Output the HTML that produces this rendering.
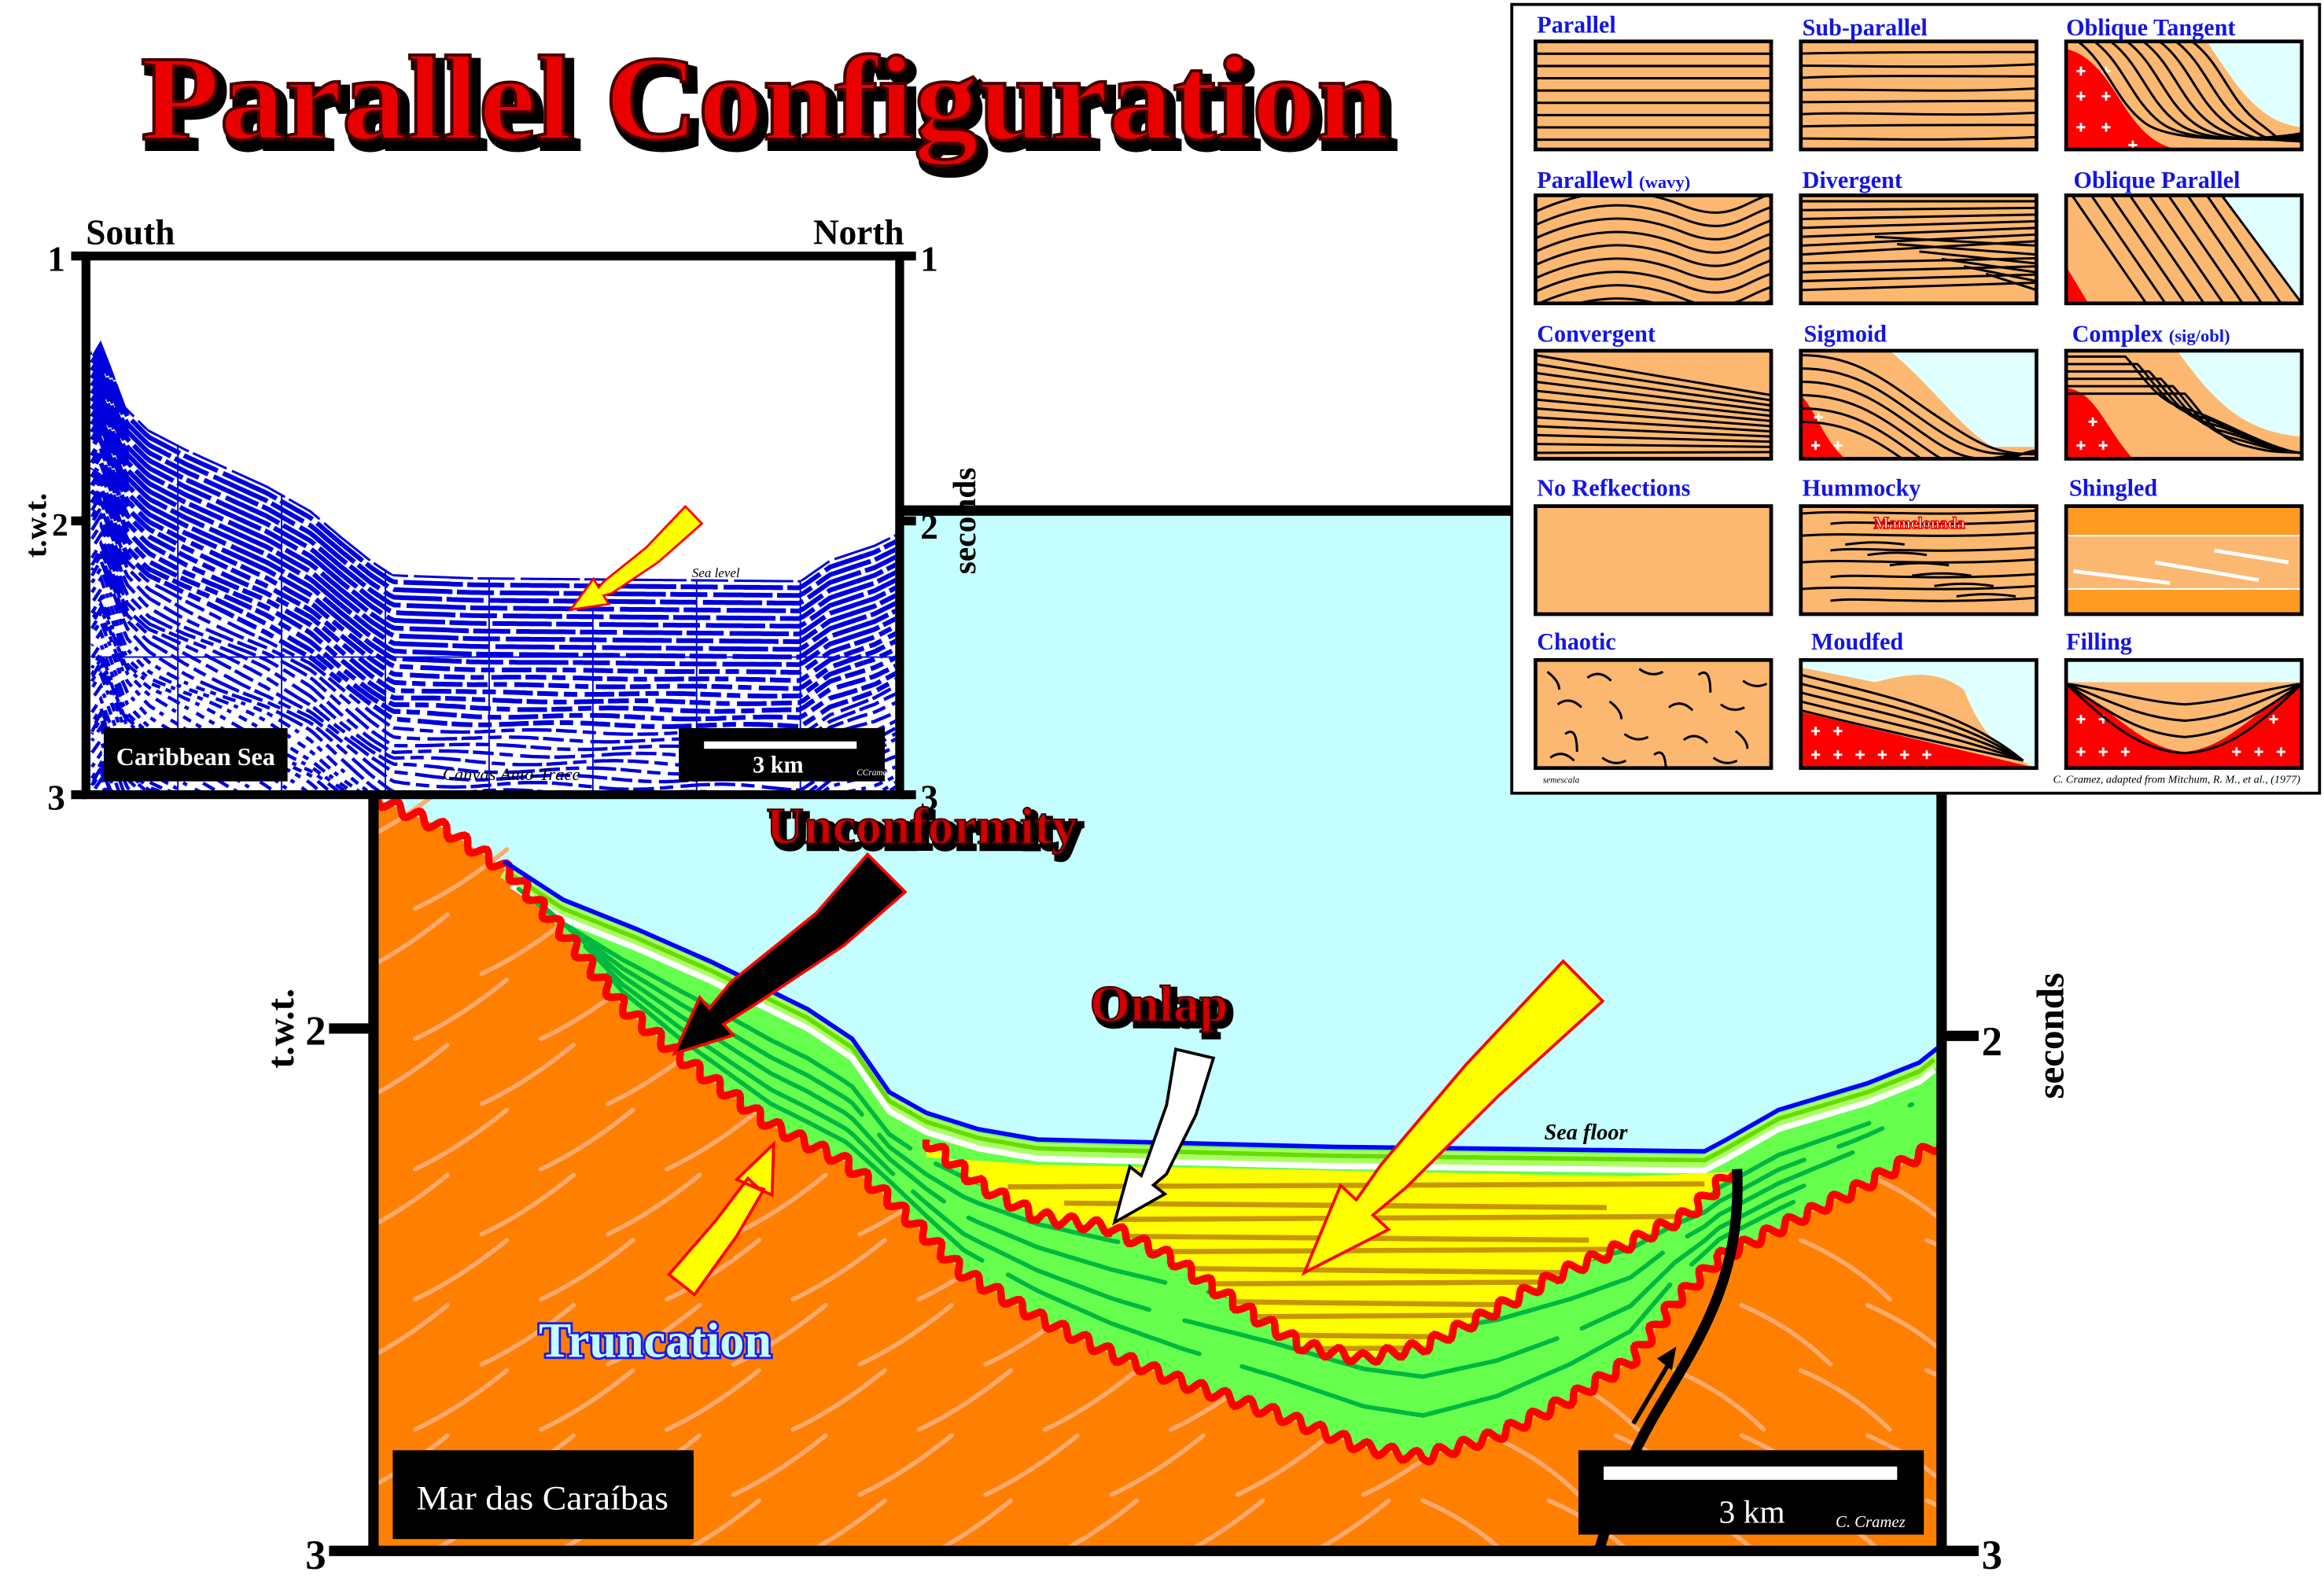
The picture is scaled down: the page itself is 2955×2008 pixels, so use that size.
<!DOCTYPE html>
<html><head><meta charset="utf-8"><style>
html,body{margin:0;padding:0;background:#fff;}
svg{display:block;}
.ser{font-family:"Liberation Serif",serif;font-weight:bold;}
.lab{font-family:"Liberation Serif",serif;font-weight:bold;fill:#1414e6;font-size:16px;}
</style></head><body>
<svg id="s" xmlns="http://www.w3.org/2000/svg" width="2955" height="2008" viewBox="0 0 1568 1067" preserveAspectRatio="none">
<defs>
<clipPath id="seisClip"><rect x="61" y="176" width="543" height="358"/></clipPath>
<clipPath id="mainClip"><rect x="255" y="537" width="1052" height="508"/></clipPath>
</defs>
<rect width="1568" height="1067" fill="#fff"/>
<rect x="252" y="345" width="1058" height="703" fill="#c4fefe"/>
<g id="main" clip-path="url(#mainClip)"></g>
<g stroke="#000" stroke-width="7" fill="none">
<line x1="607" y1="345" x2="1022" y2="345"/>
<line x1="252" y1="537" x2="252" y2="1048"/>
<line x1="1310" y1="537" x2="1310" y2="1048"/>
<line x1="222" y1="1048" x2="1335" y2="1048"/>
<line x1="222" y1="695" x2="252" y2="695"/>
<line x1="1310" y1="700" x2="1335" y2="700"/>
</g>
<g id="arrows"></g>
<rect x="58" y="173" width="549" height="364" fill="#fff"/>
<g id="seis" clip-path="url(#seisClip)"></g>
<g stroke="#000" stroke-width="6" fill="none">
<rect x="58" y="173" width="549" height="364"/>
<line x1="48" y1="173" x2="58" y2="173"/><line x1="607" y1="173" x2="618" y2="173"/>
<line x1="48" y1="352" x2="58" y2="352"/><line x1="607" y1="352" x2="618" y2="352"/>
<line x1="48" y1="537" x2="58" y2="537"/><line x1="607" y1="537" x2="618" y2="537"/>
</g>
<g id="seisArrow"></g>
<rect x="70" y="492" width="124" height="36" fill="#000"/>
<text x="132" y="517" class="ser" font-size="17" fill="#fff" text-anchor="middle">Caribbean Sea</text>
<rect x="458" y="492" width="139" height="36" fill="#000"/>
<rect x="475" y="501" width="103" height="5" fill="#fff"/>
<text x="525" y="522" class="ser" font-size="16" fill="#fff" text-anchor="middle">3 km</text>
<text x="578" y="524" font-family="Liberation Serif,serif" font-style="italic" font-size="6" fill="#fff">CCramez</text>
<text x="345" y="527" font-family="Liberation Serif,serif" font-style="italic" font-size="12" fill="#000" text-anchor="middle">Canvas Auto-Trace</text>
<text x="483" y="390" font-family="Liberation Serif,serif" font-style="italic" font-size="9" fill="#000" text-anchor="middle">Sea level</text>
<text x="58" y="165" class="ser" font-size="24">South</text>
<text x="610" y="165" class="ser" font-size="24" text-anchor="end">North</text>
<text x="44" y="183" class="ser" font-size="24" text-anchor="end">1</text>
<text x="621" y="183" class="ser" font-size="24">1</text>
<text x="46" y="362" class="ser" font-size="22" text-anchor="end">2</text>
<text x="621" y="364" class="ser" font-size="24">2</text>
<text x="44" y="547" class="ser" font-size="24" text-anchor="end">3</text>
<text x="621" y="547" class="ser" font-size="24">3</text>
<text transform="translate(31,355) rotate(-90)" class="ser" font-size="21" text-anchor="middle">t.w.t.</text>
<text transform="translate(658,352) rotate(-90)" class="ser" font-size="22" text-anchor="middle">seconds</text>
<text transform="translate(198,695) rotate(-90)" class="ser" font-size="26" text-anchor="middle">t.w.t.</text>
<text x="220" y="706" class="ser" font-size="28" text-anchor="end">2</text>
<text transform="translate(1392,700) rotate(-90)" class="ser" font-size="26" text-anchor="middle">seconds</text>
<text x="1337" y="713" class="ser" font-size="28">2</text>
<text x="220" y="1060" class="ser" font-size="28" text-anchor="end">3</text>
<text x="1337" y="1060" class="ser" font-size="28">3</text>
<rect x="265" y="980" width="203" height="60" fill="#000"/>
<text x="366" y="1020" font-family="Liberation Serif,serif" font-size="23" fill="#fff" text-anchor="middle" textLength="170" lengthAdjust="spacingAndGlyphs">Mar das Caraíbas</text>
<rect x="1065" y="980" width="233" height="57" fill="#000"/>
<rect x="1082" y="991" width="198" height="9" fill="#fff"/>
<text x="1182" y="1029" font-family="Liberation Serif,serif" font-size="22" fill="#fff" text-anchor="middle">3 km</text>
<text x="1262" y="1032" font-family="Liberation Serif,serif" font-style="italic" font-size="11" fill="#fff" text-anchor="middle">C. Cramez</text>
<text x="1070" y="770" font-family="Liberation Serif,serif" font-style="italic" font-weight="bold" font-size="15" fill="#000" text-anchor="middle">Sea floor</text>
<text x="625" y="573" class="ser" font-size="35" fill="#000" text-anchor="middle" stroke="#000" stroke-width="4">Unconformity</text>
<text x="622" y="570" class="ser" font-size="35" fill="#d00000" text-anchor="middle" stroke="#300" stroke-width="1">Unconformity</text>
<text x="785" y="693" class="ser" font-size="35" fill="#000" text-anchor="middle" stroke="#000" stroke-width="4">Onlap</text>
<text x="782" y="690" class="ser" font-size="35" fill="#d00000" text-anchor="middle" stroke="#300" stroke-width="1">Onlap</text>
<text x="442" y="917" class="ser" font-size="33" fill="#c4fefe" text-anchor="middle" stroke="#1a1aee" stroke-width="3" paint-order="stroke">Truncation</text>
<text x="99" y="99" class="ser" font-size="82" fill="#000" stroke="#000" stroke-width="6" textLength="842" lengthAdjust="spacingAndGlyphs">Parallel Configuration</text>
<text x="95" y="94" class="ser" font-size="82" fill="#e80000" stroke="#400" stroke-width="2" textLength="842" lengthAdjust="spacingAndGlyphs">Parallel Configuration</text>
<rect x="1020" y="3" width="545" height="533" fill="#fff" stroke="#000" stroke-width="2"/>
<g id="panel"></g>
<text x="1037" y="22" class="lab">Parallel</text>
<text x="1216" y="24" class="lab">Sub-parallel</text>
<text x="1394" y="24" class="lab">Oblique Tangent</text>
<text x="1037" y="127" class="lab">Parallewl <tspan font-size="12">(wavy)</tspan></text>
<text x="1216" y="127" class="lab">Divergent</text>
<text x="1399" y="127" class="lab">Oblique Parallel</text>
<text x="1037" y="231" class="lab">Convergent</text>
<text x="1217" y="231" class="lab">Sigmoid</text>
<text x="1398" y="231" class="lab">Complex <tspan font-size="12">(sig/obl)</tspan></text>
<text x="1037" y="335" class="lab">No Refkections</text>
<text x="1216" y="335" class="lab">Hummocky</text>
<text x="1396" y="335" class="lab">Shingled</text>
<text x="1037" y="439" class="lab">Chaotic</text>
<text x="1222" y="439" class="lab">Moudfed</text>
<text x="1394" y="439" class="lab">Filling</text>
<text x="1295" y="357" font-family="Liberation Serif,serif" font-weight="bold" font-size="11" fill="#fff" stroke="#e00" stroke-width="0.8" text-anchor="middle">Mamelonada</text>
<text x="1041" y="529" font-family="Liberation Serif,serif" font-style="italic" font-size="6">semescala</text>
<text x="1552" y="529" font-family="Liberation Serif,serif" font-style="italic" font-size="7.5" text-anchor="end">C. Cramez, adapted from Mitchum, R. M., et al., (1977)</text>
</svg>
<script>
const NS="http://www.w3.org/2000/svg";
const DEFS=document.querySelector('defs');
function el(t,a,p){const e=document.createElementNS(NS,t);for(const k in a)e.setAttribute(k,a[k]);(p||document.getElementById('s')).appendChild(e);return e;}
function P(pts){return "M"+pts.map(p=>p[0].toFixed(1)+","+p[1].toFixed(1)).join(" L");}
function interp(poly,x){if(x<=poly[0][0])return poly[0][1];for(let i=1;i<poly.length;i++){if(x<=poly[i][0]){const a=poly[i-1],b=poly[i];return a[1]+(b[1]-a[1])*(x-a[0])/(b[0]-a[0]);}}return poly[poly.length-1][1];}
function wavy(poly,A,L){const out=[];let s=0;for(let i=1;i<poly.length;i++){const a=poly[i-1],b=poly[i];const dx=b[0]-a[0],dy=b[1]-a[1];const len=Math.hypot(dx,dy);const nx=-dy/len,ny=dx/len;for(let t=0;t<len;t+=1.5){const o=A*Math.sin(2*Math.PI*(s+t)/L);out.push([a[0]+dx*t/len+nx*o,a[1]+dy*t/len+ny*o]);}s+=len;}out.push(poly[poly.length-1]);return out;}
function arrow(g,pts,w,hw,hl,fill,stroke,sw){
 const n=pts.length;const tip=pts[n-1],pre=pts[n-2];
 const dx=tip[0]-pre[0],dy=tip[1]-pre[1],L=Math.hypot(dx,dy),ux=dx/L,uy=dy/L;
 const base=[tip[0]-ux*hl,tip[1]-uy*hl];
 const sp=pts.slice(0,n-1).concat([base]);
 const left=[],right=[];
 for(let i=0;i<sp.length;i++){const a=sp[Math.max(0,i-1)],b=sp[Math.min(sp.length-1,i+1)];let ex=b[0]-a[0],ey=b[1]-a[1];const l=Math.hypot(ex,ey);ex/=l;ey/=l;const ww=w*(1-0.6*i/(sp.length-1))/2;left.push([sp[i][0]-ey*ww,sp[i][1]+ex*ww]);right.push([sp[i][0]+ey*ww,sp[i][1]-ex*ww]);}
 const poly=left.concat([[base[0]-uy*hw/2,base[1]+ux*hw/2],tip,[base[0]+uy*hw/2,base[1]-ux*hw/2]]).concat(right.reverse());
 el('path',{d:P(poly)+"Z",fill:fill,stroke:stroke,'stroke-width':sw,'stroke-linejoin':'miter'},g);
}
const M=document.getElementById('main');
const S=[[340,582],[380,608],[430,628],[480,650],[545,682],[575,702],[600,738],[625,752],[660,763],[700,770],[900,775],[1150,778],[1165,770],[1200,750],[1260,732],[1295,718],[1310,706]];
const U=[[255,540],[300,560],[345,590],[380,630],[420,680],[460,715],[520,760],[570,785],[600,810],[650,860],[700,890],[750,915],[800,935],[860,955],[920,978],[960,985],[1010,970],[1060,945],[1100,920],[1130,880],[1160,850],[1200,830],[1250,805],[1310,772]];
el('path',{d:P(U)+" L1310,1048 L252,1048 L252,540Z",fill:"#ff8000"},M);
const bl=el('g',{stroke:"#ffaa70","stroke-width":3,fill:"none","stroke-linecap":"round"},M);
for(let r=0;r<12;r++){for(let c=0;c<14;c++){const x=240+c*85+(r%2)*40,y=570+r*44;const uy=interp(U,x+20);if(y<uy+20)continue;const flip=x>=950;
 el('path',flip?{d:`M${x+60},${y} q-25,-25 -60,-40`}:{d:`M${x},${y} q30,-14 62,-40`},bl);}}
el('path',{d:P(S)+" L1310,772 "+P(U.filter(p=>p[0]>=345).reverse()).replace("M","L")+"Z",fill:"#66ff4d"},M);
const band=[];for(let x=340;x<=1310;x+=5)band.push([x,interp(S,x)+7]);
el('path',{d:P(band),stroke:"#aaff66","stroke-width":9,fill:"none"},M);
const band2=[];for(let x=345;x<=1305;x+=5)band2.push([x,interp(S,x)+6]);
el('path',{d:P(band2),stroke:"#66dd00","stroke-width":3,fill:"none"},M);
const wl=[];for(let x=345;x<=1305;x+=5)wl.push([x,interp(S,x)+13]);
el('path',{d:P(wl),stroke:"#fff","stroke-width":4,fill:"none"},M);
const gl=el('g',{stroke:"#00b840","stroke-width":3,fill:"none","stroke-linecap":"round"},M);
[0.25,0.42,0.58,0.74,0.88].forEach((t,i)=>{const pts=[];for(let x=350+i*15;x<=1290-i*20;x+=5){const a=interp(S,x)+16,b=interp(U,x)-6;pts.push([x,a+t*(b-a)]);}el('path',{d:P(pts),"stroke-dasharray":(i%2?"260 18 180 25":"320 20 140 30")},gl);});
const O=[[625,770],[660,800],[700,822],[750,830],[790,850],[840,885],[880,910],[920,918],[960,910],[1000,890],[1050,862],[1100,840],[1140,820],[1168,792]];
const Yt=[[1168,792],[1100,795],[700,787],[625,782]];
const ypath=P(O.concat(Yt))+"Z";
el('path',{d:ypath,fill:"#ffff00"},M);
const yc=el('clipPath',{id:"yclip"},DEFS);el('path',{d:ypath},yc);
const yl=el('g',{stroke:"#c89600","stroke-width":3.5,"clip-path":"url(#yclip)"},M);
for(let k=0;k<11;k++){const y=802+k*11;const x1=680+(k%3)*30+k*8, x2=1150-(k%2)*60-k*6;el('line',{x1:x1,y1:y,x2:x2,y2:y+(k%2?3:-2)},yl);}
el('path',{d:P(wavy(U,4,17)),stroke:"#ff0000","stroke-width":5,fill:"none"},M);
el('path',{d:P(wavy(O,4,17)),stroke:"#ff0000","stroke-width":5,fill:"none"},M);
el('path',{d:P(S),stroke:"#0000ff","stroke-width":3,fill:"none"},M);
el('path',{d:"M1172,790 C1175,860 1150,900 1120,950 S1085,1030 1078,1050",stroke:"#000","stroke-width":7,fill:"none"},M);
const AR=document.getElementById('arrows');
arrow(AR,[[598,590],[560,628],[500,672],[455,712]],36,34,38,"#000","#ff0000",2);
arrow(AR,[[806,712],[797,750],[780,790],[752,826]],26,30,36,"#fff","#000",2);
arrow(AR,[[1068,663],[1000,730],[940,795],[880,860]],38,44,60,"#ffff00","#ff0000",2);
arrow(AR,[[460,868],[490,830],[510,800],[522,773]],22,26,32,"#ffff00","#ff0000",2);
el('path',{d:"M1102,962 L1128,918",stroke:"#000","stroke-width":3,fill:"none"},AR);
el('path',{d:"M1131,910 L1118,918 L1128,926Z",fill:"#000"},AR);
const G=document.getElementById('seis');
const Sf=[[62,240],[68,230],[75,248],[85,275],[100,290],[125,303],[180,328],[210,345],[230,362],[250,378],[265,388],[320,390],[540,392],[560,378],[590,368],[606,360]];
const sg=el('g',{stroke:"#0000dd",fill:"none"},G);
for(let k=0;k<70;k++){const pts=[];for(let x=62;x<=606;x+=3){let y=interp(Sf,x)+k*5.2;const deep=Math.max(0,k-10)/60;
 y+=Math.sin(x*0.05+k*0.9)*deep*7;pts.push([x,y]);}
 const d=k<12?"40 3 25 4":(k<30?"14 4 9 5 20 3":"6 4 4 5 9 4 3 6");
 el('path',{d:P(pts),"stroke-width":k<20?3.2:2.3,"stroke-dasharray":d,"stroke-dashoffset":(k*7)%23},sg);}
el('path',{d:P(Sf)+" L606,170 L62,170Z",fill:"#fff"},G);
const gr=el('g',{stroke:"#0000dd","stroke-width":1},G);
[120,190,260,330,400,470,540].forEach(x=>el('line',{x1:x,y1:interp(Sf,x),x2:x,y2:537},gr));
el('line',{x1:62,y1:444,x2:606,y2:444},gr);
arrow(document.getElementById('seisArrow'),[[468,348],[440,375],[410,397],[385,412]],16,20,24,"#ffff00","#ff0000",1.5);
const PN=document.getElementById('panel');
const XS=[1036,1215,1394],YS=[28,132,237,342,446],W=159,H=73;
const TAN="#fcb870",CY="#e0ffff",RED="#ff0000";
let cid=0;
function cell(c,r,fn){const x=XS[c],y=YS[r];const id="pc"+(cid++);const cp=el('clipPath',{id:id},DEFS);el('rect',{x:x,y:y,width:W,height:H},cp);
 const g=el('g',{"clip-path":`url(#${id})`},PN);const inner=el('g',{transform:`translate(${x},${y})`},g);fn(inner);
 el('rect',{x:x,y:y,width:W,height:H,fill:"none",stroke:"#000","stroke-width":2.5},PN);}
function L(g,d,w){return el('path',{d:d,stroke:"#000","stroke-width":w||1.6,fill:"none"},g);}
function R(g,f){el('rect',{x:0,y:0,width:W,height:H,fill:f},g);}
function plus(g,pts){pts.forEach(p=>{L(g,`M${p[0]-3},${p[1]}h6M${p[0]},${p[1]-3}v6`,1.5).setAttribute('stroke','#fff');});}
cell(0,0,g=>{R(g,TAN);for(let i=1;i<9;i++)L(g,`M0,${i*8.3}H${W}`);});
cell(1,0,g=>{R(g,TAN);for(let i=1;i<9;i++){const y=i*8.2;L(g,`M0,${y} C40,${y-2+i%3} 100,${y+2-(i%2)*3} ${W},${y-1}`);}});
cell(2,0,g=>{R(g,CY);el('path',{d:`M0,0 H95 C115,30 130,55 ${W},58 V${H} H0Z`,fill:TAN},g);el('path',{d:`M0,5 C20,10 30,30 40,45 C50,60 60,70 75,${H} H0Z`,fill:RED},g);plus(g,[[10,20],[27,20],[10,37],[27,37],[10,58],[27,58],[45,70]]);
 for(let i=0;i<8;i++){const xs=8+i*11;L(g,`M${xs},0 C${xs+20},15 ${xs+25},40 ${xs+45},55 S${W-20},66 ${W},${62+i*0.8}`);}});
cell(0,1,g=>{R(g,TAN);for(let i=0;i<9;i++){const y=i*9+3;L(g,`M0,${y+8} C40,${y-10} 70,${y-8} 100,${y+4} S140,${y+2} ${W},${y-4}`);}});
cell(1,1,g=>{R(g,TAN);for(let i=0;i<11;i++){L(g,`M0,${4+i*6} L${W},${4+i*4.5+(i>6?i:0)}`);}for(let i=0;i<6;i++)L(g,`M${50+i*15},${28+i*5} L${W},${34+i*6}`);});
cell(2,1,g=>{R(g,CY);el('path',{d:`M0,0 H105 L${W},${H} H0Z`,fill:TAN},g);el('path',{d:`M0,48 L15,${H} H0Z`,fill:RED},g);for(let i=0;i<8;i++){const xs=4+i*13;L(g,`M${xs},0 L${xs+50},${H}`);}L(g,`M105,0 L${W},${H}`);});
cell(0,2,g=>{R(g,TAN);for(let i=0;i<12;i++){L(g,`M0,${3+i*6} L${W},${30+i*3.5}`);}});
cell(1,2,g=>{R(g,CY);el('path',{d:`M0,0 H60 C90,25 110,55 130,65 H${W} V${H} H0Z`,fill:TAN},g);el('path',{d:`M0,30 C10,40 15,60 30,${H} H0Z`,fill:RED},g);plus(g,[[12,45],[10,64],[25,64]]);
 for(let i=0;i<6;i++){const y=3+i*9;L(g,`M0,${y} C40,${y} 60,${y+20} 90,${y+40} S130,${H-3} ${W},${H-3-i*0.5}`);}});
cell(2,2,g=>{R(g,CY);el('path',{d:`M0,0 H75 C100,35 120,55 ${W},58 V${H} H0Z`,fill:TAN},g);el('path',{d:`M0,25 C20,28 25,50 45,${H} H0Z`,fill:RED},g);plus(g,[[18,48],[10,64],[25,64]]);
 for(let i=0;i<6;i++){const y=4+i*5,x=40+i*8;L(g,`M0,${y} H${x} C${x+10},${y+10} ${x+20},${y+30} ${x+40},${y+35} S${W-20},${H-5} ${W},${H-4}`);}});
cell(0,3,g=>{R(g,TAN);});
cell(1,3,g=>{R(g,TAN);const ys=[5,12,20,30,38,48,56,64];ys.forEach((y,i)=>{L(g,`M${i%2?20:0},${y} C40,${y-3} 80,${y+3} ${W},${y-2}`);});for(let i=0;i<6;i++)L(g,`M${30+i*15},${26+i*7} q20,-3 40,0`);});
cell(2,3,g=>{R(g,"#ff9a22");el('rect',{x:0,y:20,width:W,height:36,fill:TAN},g);L(g,`M0,20H${W}M0,56H${W}`,1).setAttribute('stroke','#fff');
 [[5,44,70,52],[60,38,130,50],[100,30,150,38]].forEach(a=>{L(g,`M${a[0]},${a[1]}L${a[2]},${a[3]}`,2.5).setAttribute('stroke','#fff');});});
cell(0,4,g=>{R(g,TAN);const pts=[[8,8],[35,12],[70,6],[110,10],[140,14],[15,30],[50,28],[90,32],[125,30],[20,50],[60,50],[100,54],[135,48],[10,66],[45,66],[80,64],[120,66]];pts.forEach((p,i)=>L(g,`M${p[0]},${p[1]} q8,${i%2?-6:6} ${i%3?16:8},${i%3?2:12}`));});
cell(1,4,g=>{R(g,CY);el('path',{d:`M0,5 L50,15 C70,10 90,5 110,20 C120,45 130,60 ${W},${H} H0Z`,fill:TAN},g);el('path',{d:`M0,35 L${W},${H} H0Z`,fill:RED},g);plus(g,[[10,48],[25,48],[10,64],[25,64],[40,64],[55,64],[70,64],[85,64]]);
 for(let i=0;i<5;i++)L(g,`M0,${10+i*6} C60,${25+i*6} 110,${35+i*6} 150,68`);});
cell(2,4,g=>{R(g,CY);el('path',{d:`M0,15 L${W},15 V${H} H0Z`,fill:TAN},g);el('path',{d:`M0,18 C30,30 50,60 80,62 C110,60 130,30 ${W},18 V${H} H0Z`,fill:RED},g);plus(g,[[10,40],[25,40],[10,62],[25,62],[40,62],[115,62],[130,62],[145,62],[140,40]]);
 for(let i=0;i<4;i++)L(g,`M0,16 C30,${20+i*8} 50,${28+i*11} 80,${30+i*11} C110,${28+i*11} 130,${20+i*8} ${W},16`);});
</script>
</body></html>
